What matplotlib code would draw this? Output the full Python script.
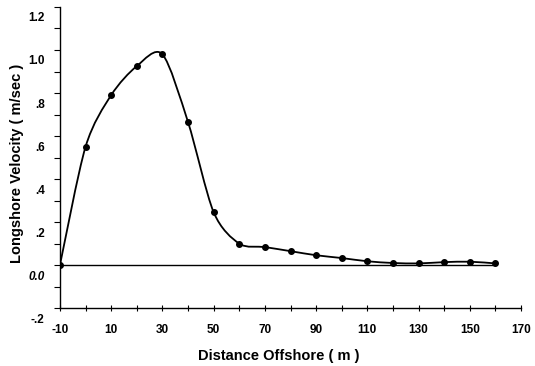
import numpy as np
import matplotlib
matplotlib.use('Agg')
import matplotlib.pyplot as plt
import matplotlib.transforms as mtrans
from matplotlib.path import Path
from matplotlib.patches import PathPatch

# longshore current profile
distance = [-10, 0, 10, 20, 30, 40, 50, 60, 70, 80, 90, 100, 110, 120, 130, 140, 150, 160]
velocity = [0.0, 0.55, 0.79, 0.925, 0.98, 0.665, 0.246, 0.10, 0.084, 0.065, 0.046,
            0.033, 0.018, 0.010, 0.008, 0.014, 0.016, 0.008]

xticks = [-10, 10, 30, 50, 70, 90, 110, 130, 150, 170]
yticks = [-0.2, 0.0, 0.2, 0.4, 0.6, 0.8, 1.0, 1.2]
ylabels = ['-.2', '0.0', '.2', '.4', '.6', '.8', '1.0', '1.2']

plt.rcParams.update({'font.family': 'Liberation Sans', 'font.weight': 'bold',
                     'font.size': 8.5, 'axes.unicode_minus': False})

fig = plt.figure(figsize=(5.35, 3.66), dpi=100)
ax = fig.add_axes([0.112, 0.158, 0.862, 0.823])
ax.set_xlim(-10, 170)
ax.set_ylim(-0.2, 1.2)

# smooth curve through the points: Catmull-Rom segments as cubic Bezier
x = np.array(distance, float); y = np.array(velocity, float)
verts = [(x[0], y[0])]; codes = [Path.MOVETO]
n = len(x)
k = 7.0
for i in range(n - 1):
    p0 = np.array([x[max(i-1, 0)], y[max(i-1, 0)]])
    p1 = np.array([x[i], y[i]]); p2 = np.array([x[i+1], y[i+1]])
    p3 = np.array([x[min(i+2, n-1)], y[min(i+2, n-1)]])
    c1 = p1 + (p2 - p0) / k
    c2 = p2 - (p3 - p1) / k
    verts += [tuple(c1), tuple(c2), tuple(p2)]
    codes += [Path.CURVE4] * 3
ax.add_patch(PathPatch(Path(verts, codes), facecolor='none', edgecolor='black',
                       lw=1.3, zorder=3))
ax.plot(distance, velocity, 'o', color='black', ms=4, zorder=4)

# zero reference line
ax.plot([distance[0], distance[-1]], [0, 0], color='black', lw=1.0, zorder=2)

ax.spines['top'].set_visible(False)
ax.spines['right'].set_visible(False)
ax.spines['left'].set_linewidth(1.0)
ax.spines['bottom'].set_linewidth(1.0)

ax.set_xticks(xticks)
ax.set_xticks(np.arange(0, 170, 20), minor=True)
ax.set_yticks(yticks)
ax.set_yticklabels(ylabels)
ax.set_yticks(np.arange(-0.1, 1.2, 0.2), minor=True)
ax.tick_params(axis='y', which='both', direction='out', length=4, width=0.8, pad=7)
ax.tick_params(axis='x', which='both', direction='inout', length=5, width=0.8, pad=9)

# labels sit a little below their ticks
off = mtrans.ScaledTranslation(0, -10/100, fig.dpi_scale_trans)
for lab in ax.get_yticklabels():
    lab.set_transform(lab.get_transform() + off)
    if lab.get_text() == '0.0':
        lab.set_style('italic')

ax.set_xlabel('Distance Offshore ( m )', fontsize=10.5, fontweight='bold')
ax.set_ylabel('Longshore Velocity ( m/sec )', fontsize=10.5, fontweight='bold')
ax.xaxis.set_label_coords(0.475, -0.135)
ax.yaxis.set_label_coords(-0.078, 0.48)

fig.savefig('out.png', dpi=100)
